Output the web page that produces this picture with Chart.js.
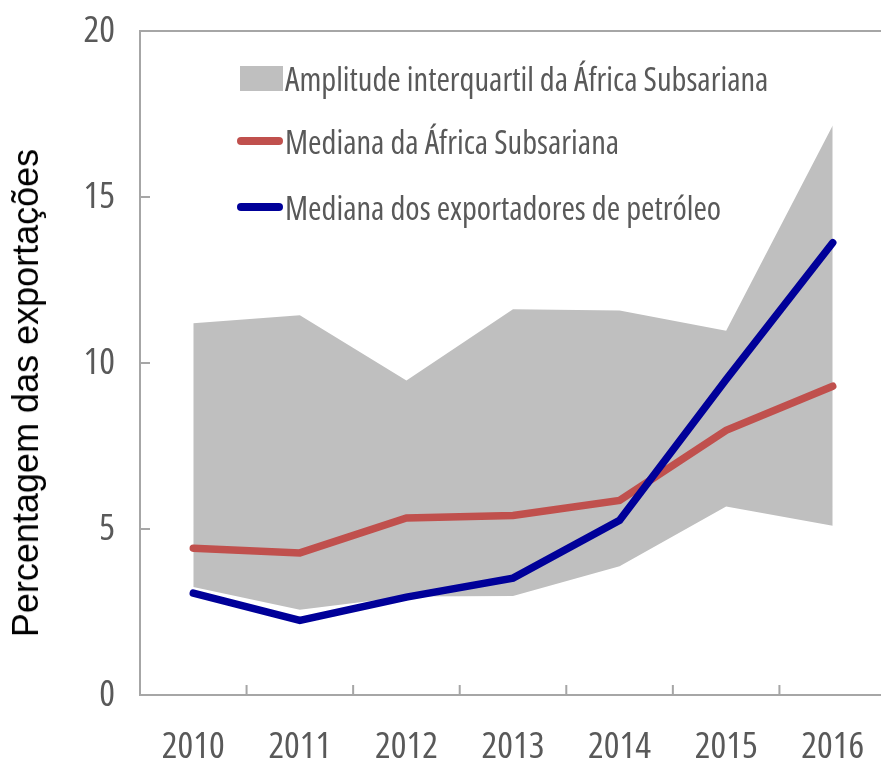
<!DOCTYPE html>
<html>
<head>
<meta charset="utf-8">
<script src="https://cdn.jsdelivr.net/npm/chart.js@4.4.1/dist/chart.umd.min.js"></script>
<style>
  body { margin: 0; overflow: hidden; background: #fff; }
  #wrap { position: relative; width: 890px; height: 767px; }
  #ytitle {
    position: absolute; left: 26px; top: 393px;
    transform: translate(-50%, -50%) rotate(-90deg);
    font: 36px "Liberation Sans", Arial, sans-serif; line-height: 1;
    color: #000; white-space: nowrap;
  }
  .leg {
    position: absolute; left: 237px; height: 40px;
    display: flex; align-items: center;
    font-family: "Open Sans", sans-serif; font-size: 32.5px; font-stretch: condensed;
    color: #595959; white-space: nowrap;
  }
  .leg .sym { width: 46px; margin-right: 2px; display: flex; justify-content: flex-end; }
</style>
</head>
<body>
<div id="wrap">
  <canvas id="chart"></canvas>
  <div id="ytitle">Percentagem das exportações</div>
  <div id="legend"></div>
</div>
<script>
// data
const years = ["2010", "2011", "2012", "2013", "2014", "2015", "2016"];
const quartilInferior = [3.25, 2.57, 2.97, 2.98, 3.88, 5.68, 5.1];
const quartilSuperior = [11.2, 11.44, 9.47, 11.62, 11.58, 10.97, 17.15];
const medianaAfrica = [4.42, 4.28, 5.33, 5.41, 5.86, 7.97, 9.3];
const medianaPetroleo = [3.07, 2.25, 2.95, 3.52, 5.26, 9.5, 13.62];
const yTicks = [0, 5, 10, 15, 20];

const axisColor = "#A6A6A6";
const textColor = "#595959";
// "condensed" goes into the canvas font shorthand as font-stretch
const tickFont = { family: "'Open Sans', sans-serif", size: 37, weight: "condensed" };

// tick marks drawn inside the plot, plus the top frame line
const innerTicks = {
  id: "innerTicks",
  afterDraw(chart) {
    const { ctx, chartArea: a, scales: { x, y } } = chart;
    ctx.save();
    ctx.strokeStyle = axisColor;
    ctx.lineWidth = 2;
    ctx.beginPath();
    ctx.moveTo(a.left, a.top);
    ctx.lineTo(a.right, a.top);
    yTicks.forEach((v) => {
      const py = y.getPixelForValue(v);
      ctx.moveTo(a.left, py);
      ctx.lineTo(a.left + 10, py);
    });
    for (let i = 0; i < years.length - 1; i++) {
      const px = (x.getPixelForTick(i) + x.getPixelForTick(i + 1)) / 2;
      ctx.moveTo(px, a.bottom);
      ctx.lineTo(px, a.bottom - 10);
    }
    ctx.stroke();
    ctx.restore();
  },
};

const chart = new Chart(document.getElementById("chart"), {
  type: "line",
  data: {
    labels: years,
    datasets: [
      {
        label: "Mediana dos exportadores de petróleo",
        data: medianaPetroleo,
        borderColor: "#000099",
        borderWidth: 7.5,
        borderCapStyle: "round",
        pointRadius: 0,
        fill: false,
        order: 0,
      },
      {
        label: "Mediana da África Subsariana",
        data: medianaAfrica,
        borderColor: "#C0504D",
        borderWidth: 7.5,
        borderCapStyle: "round",
        pointRadius: 0,
        fill: false,
        order: 1,
      },
      {
        label: "quartil inferior",
        data: quartilInferior,
        borderWidth: 0,
        borderColor: "rgba(0,0,0,0)",
        pointRadius: 0,
        fill: false,
        order: 2,
      },
      {
        label: "Amplitude interquartil da África Subsariana",
        data: quartilSuperior,
        borderWidth: 0,
        borderColor: "rgba(0,0,0,0)",
        backgroundColor: "#BFBFBF",
        pointRadius: 0,
        fill: "-1",
        order: 3,
      },
    ],
  },
  options: {
    responsive: true,
    maintainAspectRatio: false,
    animation: false,
    layout: { padding: { top: 31, right: 4, left: 0, bottom: 0 } },
    plugins: {
      legend: { display: false },
      tooltip: { enabled: false },
    },
    scales: {
      x: {
        offset: true,
        grid: { offset: true, drawOnChartArea: false, drawTicks: false },
        border: { color: axisColor, width: 2 },
        ticks: {
          color: textColor,
          font: tickFont,
          padding: 30,
          maxRotation: 0,
          autoSkip: false,
        },
        afterFit: (s) => {
          s.height = 72;
          s.paddingLeft = 0;
          s.paddingRight = 0;
        },
      },
      y: {
        min: 0,
        max: 20,
        afterBuildTicks: (s) => { s.ticks = yTicks.map((v) => ({ value: v })); },
        grid: { drawOnChartArea: false, drawTicks: false },
        border: { color: axisColor, width: 2 },
        ticks: {
          color: textColor,
          font: tickFont,
          padding: 25,
        },
        afterFit: (s) => {
          s.width = 140;
          s.paddingTop = 0;
          s.paddingBottom = 0;
        },
      },
    },
  },
  plugins: [innerTicks],
});

// legend overlay inside the plot
const legendRows = [
  { ds: chart.data.datasets[3], kind: "box", center: 78 },
  { ds: chart.data.datasets[1], kind: "line", center: 141 },
  { ds: chart.data.datasets[0], kind: "line", center: 207 },
];
const legendEl = document.getElementById("legend");
legendRows.forEach((r) => {
  const row = document.createElement("div");
  row.className = "leg";
  row.style.top = r.center - 20 + "px";
  const sym = document.createElement("span");
  sym.className = "sym";
  const mark = document.createElement("span");
  if (r.kind === "box") {
    mark.style.cssText = "width:43px;height:25px;background:" + r.ds.backgroundColor;
  } else {
    mark.style.cssText = "width:46px;height:8px;border-radius:4px;background:" + r.ds.borderColor;
  }
  sym.appendChild(mark);
  const txt = document.createElement("span");
  txt.textContent = r.ds.label;
  row.appendChild(sym);
  row.appendChild(txt);
  legendEl.appendChild(row);
});
</script>
</body>
</html>
